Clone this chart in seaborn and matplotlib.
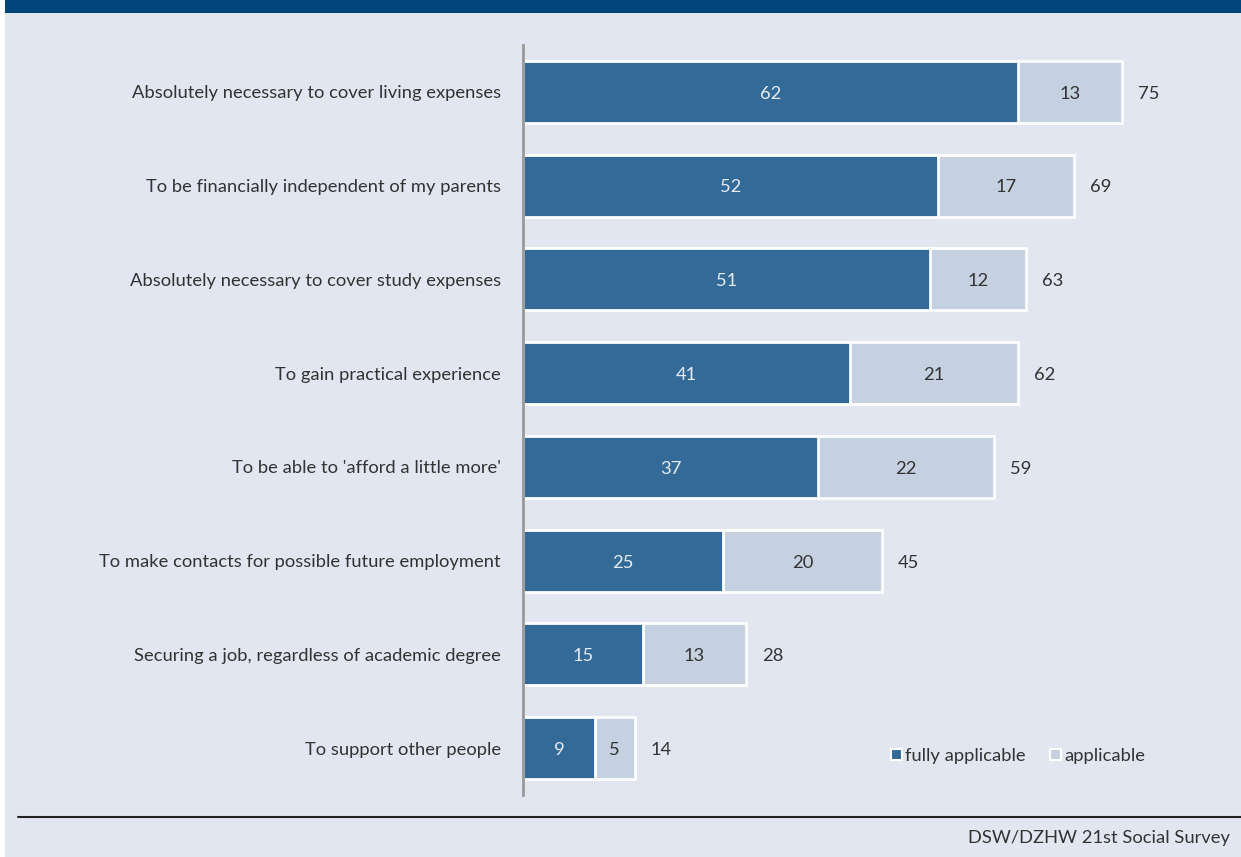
import matplotlib
matplotlib.use("Agg")
import matplotlib.pyplot as plt
from matplotlib.patches import Patch, Rectangle
from matplotlib.lines import Line2D
import seaborn as sns
import pandas as pd

# Reasons for working while studying, share of students in %
reasons = [
    "Absolutely necessary to cover living expenses",
    "To be financially independent of my parents",
    "Absolutely necessary to cover study expenses",
    "To gain practical experience",
    "To be able to 'afford a little more'",
    "To make contacts for possible future employment",
    "Securing a job, regardless of academic degree",
    "To support other people",
]
fully_applicable = [62, 52, 51, 41, 37, 25, 15, 9]
applicable = [13, 17, 12, 21, 22, 20, 13, 5]
totals = [75, 69, 63, 62, 59, 45, 28, 14]

BG = "#e1e6f0"
DARK = "#336a98"
LIGHT = "#c5d1e0"
TEXT = "#333333"
FS = 13.2

sns.set_theme(style="white")
plt.rcParams["font.family"] = ["Lato", "DejaVu Sans"]

df = pd.DataFrame({
    "reason": reasons,
    "fully": fully_applicable,
    "applicable": applicable,
    "total": totals,
})

fig = plt.figure(figsize=(12.41, 8.57), dpi=100, facecolor=BG)
ax = fig.add_axes([523 / 1241, 1 - 795 / 857, 708 / 1241, 750 / 857])
ax.set_facecolor(BG)

# stacked bars: total (light) underneath, fully applicable (dark) on top
sns.barplot(data=df, y="reason", x="total", order=reasons, orient="h",
            color=LIGHT, saturation=1, width=0.66, edgecolor="white",
            linewidth=2, ax=ax)
sns.barplot(data=df, y="reason", x="fully", order=reasons, orient="h",
            color=DARK, saturation=1, width=0.66, edgecolor="white",
            linewidth=2, ax=ax)

ax.set_xlim(0, 88.7)
ax.set_ylim(7.5, -0.5)
ax.set_xlabel("")
ax.set_ylabel("")
ax.set_xticks([])
ax.tick_params(axis="y", length=0, pad=16, labelsize=FS, labelcolor=TEXT)

for side in ("top", "right", "bottom"):
    ax.spines[side].set_visible(False)
ax.spines["left"].set_color("#999999")
ax.spines["left"].set_linewidth(2)

for i, (f, a, t) in enumerate(zip(fully_applicable, applicable, totals)):
    y = i + 0.02
    ax.text(f / 2, y, str(f), ha="center", va="center", fontsize=FS,
            color="#e6ebf3")
    ax.text(f + a / 2, y, str(a), ha="center", va="center", fontsize=FS,
            color=TEXT)
    ax.text(t + 2, y, str(t), ha="left", va="center", fontsize=FS,
            color=TEXT)

handles = [Patch(facecolor=DARK, edgecolor="white", linewidth=1.5),
           Patch(facecolor=LIGHT, edgecolor="white", linewidth=1.5)]
fig.legend(handles, ["fully applicable", "applicable"], loc="center left",
           bbox_to_anchor=(874 / 1241, 1 - 756 / 857), ncol=2, frameon=False,
           handlelength=0.6, handleheight=0.6, handletextpad=0.2,
           columnspacing=1.3, fontsize=FS, labelcolor=TEXT)

# header band and left margin strip
fig.patches.append(Rectangle((0, 1 - 13 / 857), 1, 13 / 857,
                             transform=fig.transFigure, facecolor="#00467a",
                             edgecolor="none", zorder=0))
fig.patches.append(Rectangle((0, 0), 5 / 1241, 1, transform=fig.transFigure,
                             facecolor="white", edgecolor="none", zorder=1))

# footer rule and source
fig.add_artist(Line2D([18 / 1241, 1], [1 - 817 / 857, 1 - 817 / 857],
                      transform=fig.transFigure, color="#222222", linewidth=1.5))
fig.text(1230 / 1241, 1 - 838 / 857, "DSW/DZHW 21st Social Survey",
         ha="right", va="center", fontsize=FS, color=TEXT)

fig.savefig("out.png", dpi=100, facecolor=BG)
